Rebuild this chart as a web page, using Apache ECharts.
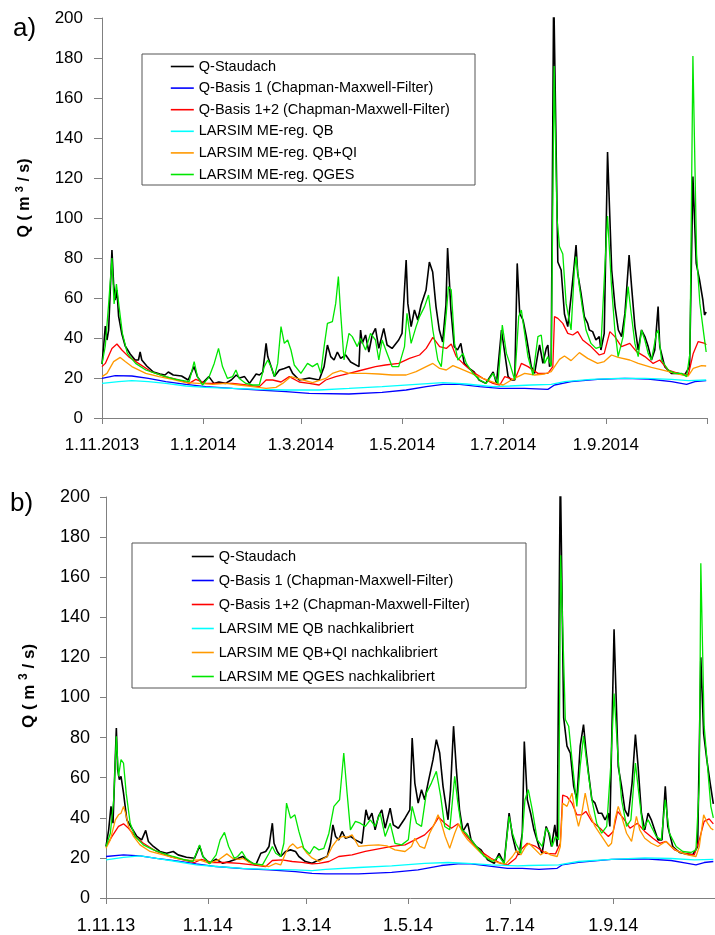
<!DOCTYPE html>
<html lang="de">

<head>
    <meta charset="UTF-8">
    <title>Abfluss Staudach - LARSIM Vergleich</title>
    <script src="https://cdn.jsdelivr.net/npm/echarts@6/dist/echarts.min.js"></script>
    <style>
        html, body { margin: 0; padding: 0; background: #fff; }
        #chart { width: 715px; height: 935px; }
    </style>
</head>

<body>
    <div id="chart"></div>
    <script>
        // x = Tage seit 1.11.2013
        var tickDays = [0, 61, 120, 181, 242, 304, 365];
        var labelDays = [0, 61, 120, 181, 242, 304];
        var tickLabelsA = ['1.11.2013', '1.1.2014', '1.3.2014', '1.5.2014', '1.7.2014', '1.9.2014'];
        var tickLabelsB = ['1.11.13', '1.1.14', '1.3.14', '1.5.14', '1.7.14', '1.9.14'];

        var namesA = ['Q-Staudach', 'Q-Basis 1 (Chapman-Maxwell-Filter)', 'Q-Basis 1+2 (Chapman-Maxwell-Filter)',
            'LARSIM ME-reg. QB', 'LARSIM ME-reg. QB+QI', 'LARSIM ME-reg. QGES'];
        var namesB = ['Q-Staudach', 'Q-Basis 1 (Chapman-Maxwell-Filter)', 'Q-Basis 1+2 (Chapman-Maxwell-Filter)',
            'LARSIM ME QB nachkalibriert', 'LARSIM ME QB+QI nachkalibriert', 'LARSIM ME QGES nachkalibriert'];
        var colors = ['#000000', '#0000ff', '#ff0000', '#00ffff', '#ff9900', '#00e600'];

        // a) LARSIM ME-reg.
        var aStaudach = [[0,27],[1,36],[2,46],[3,39],[4,44],[6,84],[7,67],[8,59],[9,64],[10,51],[12,42],[14,36],[17,32],[20,29],[22,29],[23,33],[24,29],[27,26],[31,23],[35,22],[38,21.5],[40,23],[43,21.5],[48,21],[52,19],[55.5,25.7],[57.5,20.7],[60.5,17.3],[64.5,20.7],[67.5,17.3],[70.5,18],[74.5,17.3],[78,19],[81,21.5],[83,20],[86,20.7],[89,17.3],[93,22],[95,21.5],[97,23],[99,37.3],[100,30.7],[102,25.7],[104,20.7],[107,24],[110,24.8],[113,25.7],[115,22.3],[119,19],[125,20],[131,19],[134,25.7],[136,36.5],[138,30.7],[140,29],[142,33],[144,29.8],[147,31.5],[150,28],[155,25.7],[156,44],[157,37.3],[159,41.5],[161,33],[163,41.5],[165,44.8],[167,34.8],[170,44.8],[172,36.5],[175,34.8],[179,39],[181,42.3],[183.5,79],[184.5,57.3],[186.5,45.7],[188.5,54],[190.5,49],[192.5,56.5],[195.5,64],[197.5,78],[199.5,73],[201.5,55.7],[203.5,44],[205.5,38],[207.5,56.5],[208.5,85],[210.5,54],[212.5,35.7],[214.5,34],[216.5,37.3],[218.5,27.3],[221.5,24.8],[224.5,23],[227.5,19],[231.5,17.3],[236,23],[238,17.3],[241,44],[243,32.3],[245,20.7],[247,19],[249,19],[250.5,77.3],[252,52.3],[254,49],[256,40.7],[259,25.7],[261,22.3],[263,32.3],[264,36.5],[266,27.3],[268,34.8],[269,36.5],[270,25.7],[271,27],[272.5,215],[275,78],[277,74],[279,52],[281,45.7],[283,60.7],[285,77.3],[286,86.5],[287,72.3],[289,62.3],[291,50.7],[293,47.3],[294,44],[296,43.2],[298,39],[300,40.7],[301,34],[303,42.3],[305,133],[307.5,74],[309.5,55.7],[311.5,44],[313.5,40.7],[315.5,52.3],[318,81.5],[319.5,65.7],[321.5,45.7],[323.5,34],[325.5,44],[327.5,40.7],[329.5,35.7],[331.5,29],[333.5,34],[335.5,55.7],[336.5,35.7],[339.5,25.7],[343.5,22.3],[347.5,22.3],[351.5,21.5],[354.5,25.7],[356.5,120.7],[358.5,77.3],[360.5,69],[362.5,59],[363.5,51.5],[364.5,53]];
        var aBasis1 = [[0,19.8],[8,21.2],[18,21],[28,19.8],[38.5,18.2],[50.6,16.8],[62.6,15.7],[78.8,14.8],[95,14],[111,13.2],[125,12.3],[149,12],[169,12.8],[183.5,14],[195.6,15.7],[205.7,16.8],[215.8,16.8],[227.8,15.7],[240,14.8],[255,14.8],[269,14.3],[273,16.5],[283,18.2],[299,19.3],[315.4,19.8],[329.5,19.5],[343.6,18.2],[352.7,16.8],[357.7,18.2],[364.5,18.7]];
        var aBasis12 = [[0,25.7],[2,27.3],[6,34.8],[9,37],[12,34],[16,30.7],[22,27.3],[30,23],[38,20.7],[46.5,19],[52.6,17.3],[56.6,19.3],[62.6,17.3],[70.7,17.3],[78.8,17.3],[87,16.5],[95,15.7],[99,19],[103,19],[108,18],[113,20.7],[119,18],[125,17.3],[131,16.5],[135,19],[141,20.7],[149,22.3],[157,24],[165,25.7],[171,26.5],[179,27.3],[185.5,29.8],[191.6,31.5],[195.6,34.8],[199.6,40.3],[203.7,35.7],[207.7,34.8],[210.7,37],[213.7,30.7],[217.8,27.3],[223.8,23],[229.8,19.8],[235.9,17.3],[240,16.5],[243,20.7],[249,19],[253,27.3],[257,25.7],[263,22.3],[269,22.3],[272,25.7],[273,50.7],[275,49.8],[278,47.3],[281,42.3],[284,41.5],[287,43.2],[290,39],[295,35.7],[300,31.5],[303,32.3],[306.4,43.2],[309.4,40.7],[313.4,35.7],[318.4,37.3],[322.5,33.2],[327.5,30.7],[332.5,27.3],[336.5,29],[341.6,24],[347.6,22.3],[353.7,21.5],[356.7,32.3],[359.7,38.2],[363.8,37.3],[364.5,36.5]];
        var aQB = [[0,17.3],[10,18.2],[18,18.7],[28,18.2],[38.5,17.3],[50.6,16],[62.6,15.3],[78.8,14.8],[95,14.3],[111,14],[131,14],[149,14.8],[169,15.7],[189.5,16.8],[205.7,17.7],[219.8,17],[235.9,15.7],[246,16],[259,16.5],[271,16.8],[279,18.2],[295,19.3],[311.4,19.8],[327.5,19.8],[343.6,19.3],[353.7,18.7],[364.5,19]];
        var aQBQI = [[0,20.7],[3,22.3],[7,28.2],[11,30.3],[14,28.2],[18,25.7],[26.4,22.3],[34.4,20.7],[42.5,19.3],[50.6,17.7],[58.6,17.3],[66.7,16.8],[74.7,17.3],[82.8,16.5],[90.9,15.7],[99,14.8],[105,15.3],[109,17.3],[114,20.7],[119,19.5],[127,17.7],[135,19.8],[139,22.3],[144,23.7],[149,22.3],[159,22.3],[167,22],[175,21.5],[183.5,21.5],[189.5,23.2],[195.6,25.7],[199.6,27.3],[203.7,24.8],[207.7,24],[211.7,26.2],[215.8,24.8],[221.8,22.7],[229.8,19.8],[237.9,17.3],[242,16.5],[247,19],[251,20.7],[255,22.3],[261,21.5],[267,22],[271,23.2],[276,29.3],[279,31],[283,28.7],[288,32.7],[293,29.8],[299,27.3],[303,28.2],[307.4,31.5],[311.4,30.3],[318.4,29],[323.5,27.3],[331.5,25.3],[339.6,23.7],[347.6,22],[353.7,21],[356.7,24.8],[361.7,26.2],[364.5,26]];
        var aQGES = [[0,27],[2,36],[4,57],[6,80],[7.3,57],[8.7,67],[10.3,55.7],[12.3,42.3],[15.3,32.3],[20.3,27.3],[26.4,24],[32.4,22.3],[38.5,20.7],[44.5,19.3],[52.6,18.2],[55.6,28.2],[57.6,20.7],[60.6,16.5],[64.7,20.7],[67.7,27.3],[70.3,34.8],[72.7,25.7],[75.7,19.8],[78.8,20.7],[80.8,24],[82.8,19.8],[86.8,17.3],[90.9,16.5],[94.9,16.5],[97.9,25.7],[100,29],[102,25.7],[104,20.7],[106,27.3],[108,45.7],[110,37.3],[112,39],[114,34],[116,26.5],[120,22.3],[124,27.3],[127,25.7],[130,27.3],[132,22.3],[134,35.7],[136,47.3],[139,48.2],[141,57.3],[142.6,70.7],[144,52.3],[146,29],[149,42.3],[151,40.7],[154,35.7],[156,39.8],[159,34],[162,42.3],[165,39],[167,29],[169,39],[172,32.3],[175,25.7],[179,25.7],[182.5,35.7],[184,52.3],[186.5,37.3],[189.5,45.7],[191.6,50.7],[194.6,55.7],[197,61.5],[199.6,44],[202.6,29],[204.7,25.7],[207.7,52.3],[209,65.7],[210.7,64],[212.7,37.3],[214.7,29],[217.8,32.3],[219.8,27.3],[223.8,22.3],[227.8,19],[231.8,17.3],[235.9,22.3],[238.9,17.3],[241.5,46.5],[244,32.3],[246,27.3],[249,19],[251.4,50.7],[253,54],[255,42.3],[257,30.7],[260,21.5],[263,40.7],[265,41.5],[267,27.3],[269,30.7],[271,25.7],[272.8,176],[274.5,100],[276,85.7],[278,82],[280,57.3],[283,44],[285,74],[286,80.7],[288,65.7],[290,54],[292,44],[295,37.3],[298,34.8],[301,35.7],[303,69],[305,101],[307.4,65.7],[309.4,44],[311.4,30.7],[314.4,40.7],[317.4,65.7],[319,54],[321.5,37.3],[323.5,30.7],[325.5,44],[327.5,39],[329.5,32.3],[331.5,29],[334.5,42.3],[335.5,44],[337.6,29],[341.6,24],[345.6,22.3],[349.7,22.3],[352.7,20.7],[354.7,32.3],[356.5,181],[358.7,82],[360.7,57.3],[363,42.3],[364.5,33]];

        // b) LARSIM ME nachkalibriert
        var bStaudach = [[0,25.7],[1.6,34],[3,45.7],[4.2,37.3],[6.2,84.8],[7,64],[8,59],[9,60.7],[10.5,52.3],[12.5,39],[15.5,34.8],[18.5,30.7],[21.4,29],[23.8,33.7],[25.4,28.2],[28.4,25.7],[32.3,23.2],[36.3,22.3],[40.3,23.2],[43.2,21.5],[48.2,20.3],[53.1,19.8],[56.1,26],[58.1,20.7],[62,17.3],[66,19.3],[70,17.3],[74,18.2],[77.9,19.3],[81.9,20.7],[85.8,18.2],[89.8,16.5],[92.8,22.3],[95.7,23.2],[97.7,25.7],[99.7,37.3],[100.7,27.3],[102.7,23.2],[104.7,20.7],[107.6,23.2],[110.6,24],[113.6,23.2],[115.6,20.7],[119.5,18.2],[123.5,17.3],[127.6,19],[132.6,20.7],[134.6,27.3],[136,36.5],[137.6,30.7],[139.5,29],[141.5,33.2],[143.5,29.8],[146.5,30.7],[149.5,29],[153.4,27.3],[155.8,44],[157.4,39],[159.4,42.3],[161.3,34],[163.3,40.7],[165.3,44],[167.3,34.8],[170.3,44.8],[172.2,36.5],[175.2,34.8],[179.2,39.8],[182.1,44],[183.5,79.8],[185.1,57.3],[187.1,47.3],[189.1,54],[191,49],[193,57.3],[196,69],[198,79],[200,72.3],[202,55.7],[205,39],[206.5,54],[208.3,85.7],[210,64],[211.9,44],[213.9,33.2],[216.8,37.3],[218.8,29],[221.8,25.7],[224.8,24],[228.7,19],[232.7,17.3],[235.6,22.3],[238.6,17.3],[241.6,42.3],[243.6,31],[245.6,24],[247.6,21.5],[249.5,32.3],[250.7,78],[252.5,49],[254.5,42.3],[256.5,34],[259.5,25.7],[261.4,22.3],[263.8,35.7],[265.4,32.3],[267,25.7],[269,36.5],[270.4,25.7],[272.3,215],[274.3,90],[276.3,75.7],[278.3,72.3],[280.3,55.7],[282.2,49],[284.2,75.7],[286.2,86.5],[287.6,74],[289.2,62.3],[291.2,49],[293.1,47.3],[295.1,42.3],[297.1,42.3],[299.1,39],[301.1,42.3],[302,35.7],[304.5,134],[307,65.7],[309,55.7],[311,44],[313,40.7],[315.3,57.3],[317.3,81.5],[318.9,65.7],[320.9,42.3],[322.9,34],[324.9,42.3],[326.8,39],[328.8,34],[330.8,29],[333.2,29],[335.2,55.7],[336.7,35.7],[339.7,25.7],[343.7,22.7],[347.6,22],[351.6,21.5],[354.6,25.7],[356.5,120],[358.2,82],[360.1,69],[362.1,57.3],[364,47]];
        var bBasis1 = [[0,20.7],[10.5,21.5],[20.4,21],[30.3,19.8],[42.2,18.5],[54.1,17],[66,15.7],[81.9,14.7],[97.7,14],[113.6,13.2],[123.5,12.3],[131.6,12],[151.4,12],[171.2,12.8],[187,14],[201,16.2],[211,17],[218.8,17],[228.7,16],[240.6,14.8],[249.5,14.8],[259.5,14.3],[270.4,14.8],[273.3,16.5],[283.2,17.8],[303,19.3],[322.9,19.5],[338.7,18.7],[348.6,17.3],[353.6,16.5],[358.5,17.7],[364,18.2]];
        var bBasis12 = [[0,25.7],[3.6,30.7],[7.5,35.7],[10.5,37],[13.5,34.8],[17.5,30.7],[22.4,27.3],[30.3,23.2],[38.3,20.7],[46.2,19],[53.1,17.7],[57.1,19.3],[64,17.7],[72,17.7],[79.9,17.3],[87.8,16.5],[95.7,15.7],[99.7,18.7],[105.6,19],[111.6,18.2],[117.5,17.8],[123.5,17],[127.6,17.3],[133.6,18.2],[139.5,20.7],[147.5,21.5],[155.4,23.2],[163.3,24.5],[171.2,25.7],[179.2,26.5],[185.1,29],[191,31.5],[196,35.7],[199.4,40.3],[203,37.3],[207,34.8],[210.9,37],[214.8,32.3],[219.8,27.3],[224.8,23.2],[230.7,19.8],[236.6,17.3],[240.6,16.5],[245.6,19.8],[247.6,23.2],[252.5,27.3],[257.5,25.7],[263.4,22.3],[269.4,22],[272.3,27.3],[273.7,51.3],[276.3,50.5],[279.3,47.3],[282.2,41.5],[285.2,41.5],[287.6,43.2],[291.2,38.2],[296.1,34.8],[301.1,30.7],[304,33.2],[306.6,43.2],[310,39.8],[314,34.8],[318.5,37.3],[322.9,33.2],[327.8,29.8],[331.8,27.3],[335.7,28.2],[340.7,24],[346.6,22.3],[352.6,21.5],[355.6,29],[358.5,38.2],[361.5,39.5],[364,37]];
        var bQB = [[0,19],[10.5,20.3],[20.4,21],[30.3,19.8],[42.2,18.2],[54.1,16.5],[66,15.7],[81.9,14.8],[97.7,14.3],[113.6,14],[123.5,13.7],[131.6,14.3],[151.4,15.2],[171.2,16],[191,17.3],[205,17.7],[216.8,17.3],[230.7,16.5],[246.6,16],[253.5,16.2],[271.3,16.5],[283.2,18.2],[303,19.3],[322.9,20],[338.7,19.7],[352.6,19],[364,19.3]];
        var bQBQI = [[0,24.8],[2.6,29],[5.6,39],[7.5,41.5],[9,42.3],[10.5,45.7],[11.7,42.3],[13.5,35.7],[16.5,30.7],[20.4,26.5],[26.4,23.2],[34.3,21.5],[42.2,19.8],[50.2,18.7],[56.1,19],[62,17.3],[68,19.3],[72.4,22],[75.9,19.8],[79.9,19.3],[81.9,19.8],[85.8,17.7],[91.8,16.5],[97.7,15.7],[101.7,17.3],[104.7,16.5],[107.6,22.3],[110,25.7],[112,27],[114.6,24.8],[117.5,25.7],[120.5,22.3],[123.5,20],[127.6,18.2],[132.6,20.7],[135.6,25.7],[138.5,29],[141.5,30.7],[144.5,30.3],[147.5,31.5],[151.4,25.7],[157.4,26.2],[163.3,26.5],[168.3,26],[173.2,24],[179.2,23.2],[183.1,25.7],[185.1,29.8],[188.1,25.7],[191,24.8],[194,32.3],[197,37.3],[199,41.5],[201,37.3],[203.3,30.7],[206,24.8],[209,32.3],[211.3,37],[213.9,32.3],[216.8,29],[220.8,25.7],[224.8,22.3],[229.7,19.8],[234.7,17.7],[239.6,17],[243.6,20.7],[246,23.6],[248.6,21.5],[251.5,25.7],[253.5,27.3],[256.5,24.8],[260.4,21.5],[263.4,23.2],[266.4,21.5],[270.4,20.7],[272.3,25.7],[273.7,47.3],[276.3,45.7],[279.3,52.3],[281.3,42.3],[283.2,35.7],[285.2,42.3],[287.2,52.3],[289.6,42.3],[293.1,35.7],[297.1,30.7],[301.1,25.7],[303,27.3],[305,39],[307,45.7],[309,40.7],[312,32.3],[315,28.2],[317.9,40.7],[319.9,34],[322.9,29.8],[326.8,27.3],[330.8,25.7],[333.8,27.3],[335.7,28.2],[338.7,25.7],[342.7,23.2],[348.6,21.5],[353.6,20.7],[355.6,25.7],[358.2,41.5],[360.5,37.3],[362.5,34.8],[364,34]];
        var bQGES = [[0,25.7],[2.6,32.3],[4.6,49],[6.2,80.7],[7.5,60.7],[9,69],[10.5,67.3],[12.1,52.3],[14.5,37.3],[17.5,30.7],[22.4,26.5],[28.4,24],[34.3,22.3],[40.3,20.7],[46.2,19.3],[52.1,18.2],[56.1,26.5],[58.1,20.7],[62,17],[66,21.5],[68.4,29],[71,32.7],[73.5,25.7],[76.9,19.8],[78.9,20.7],[81.5,23.2],[83.9,19.8],[87.8,17.3],[93.8,16.5],[97.7,22.3],[99.7,25.7],[101.7,22.3],[104.7,20.7],[106.6,27.3],[108.2,47.3],[110.6,39.8],[113.2,41.5],[115.6,33.2],[118.5,24.8],[122,22],[124.7,25.7],[127.6,24],[130.6,24.8],[133.6,32.3],[136.6,45.7],[140,49],[142.5,72.3],[144.5,52.3],[146.5,34],[149.5,38.2],[152.4,37.3],[155.4,35.7],[158.4,39],[161.3,35.7],[164.3,42.3],[167.3,30.7],[170.3,37.3],[173.2,27.3],[177.2,26.5],[181.2,29],[183.5,45.7],[186.1,37.3],[189.1,35.7],[192,52.3],[195,57.3],[198,63.2],[200.6,50.7],[203,35.7],[206,34],[209,60.7],[210.9,47.3],[213.3,34],[215.8,32.3],[218.8,29],[222.8,24.8],[226.7,20.7],[231.7,18.2],[235.6,20.7],[238.6,17.3],[241.6,40.7],[243.6,32.3],[245.6,27.3],[248.6,22.3],[251.1,49],[253.1,54],[255.5,44],[258.5,29],[261.4,25.7],[263.8,34.8],[265.8,32.3],[267.4,25.7],[269.4,30.7],[271.3,29],[272.5,171],[275.3,89],[277.3,85.7],[279.3,69],[282.2,45.7],[284.2,65.7],[286.2,80.7],[288.2,67.3],[291.2,49],[294.1,37.3],[297.1,32.3],[300.1,35.7],[302.5,65.7],[304.5,102],[307,69],[309,49],[312,35.7],[314.6,39],[317.3,67.3],[319.3,52.3],[321.9,34],[324.9,39],[326.8,35.7],[329.8,30.7],[332.8,29],[335.2,49],[337.7,32.3],[341.7,25.7],[345.7,23.2],[350.6,22.7],[353.6,24],[355.6,57.3],[356.5,167],[358.5,85.7],[360.5,65.7],[362.5,45.7],[364,40]];

        var seriesA = [aStaudach, aBasis1, aBasis12, aQB, aQBQI, aQGES];
        var seriesB = [bStaudach, bBasis1, bBasis12, bQB, bQBQI, bQGES];

        var font = 'Arial, "Liberation Sans", sans-serif';
        var axisGray = '#808080';

        function makeX(gridIndex, labels, fontSize) {
            return {
                type: 'value', gridIndex: gridIndex, min: 0, max: 365,
                axisLine: { lineStyle: { color: axisGray, width: 1 } },
                axisTick: { customValues: tickDays, length: 6, lineStyle: { color: axisGray } },
                axisLabel: {
                    customValues: labelDays, margin: 19, color: '#000', fontFamily: font, fontSize: fontSize,
                    formatter: function(v) { return labels[labelDays.indexOf(v)] || ''; }
                },
                splitLine: { show: false }
            };
        }

        function makeY(gridIndex, fontSize, tickLen, margin) {
            return {
                type: 'value', gridIndex: gridIndex, min: 0, max: 200, interval: 20,
                axisLine: { show: true, lineStyle: { color: axisGray, width: 1 } },
                axisTick: { show: true, length: tickLen, lineStyle: { color: axisGray } },
                axisLabel: { margin: margin, color: '#000', fontFamily: font, fontSize: fontSize },
                splitLine: { show: false }
            };
        }

        var series = [];
        seriesA.forEach(function(d, i) {
            series.push({
                name: namesA[i], type: 'line', xAxisIndex: 0, yAxisIndex: 0, data: d,
                symbol: 'none', clip: true, color: colors[i],
                lineStyle: { width: i === 0 ? 1.6 : 1.3, color: colors[i] }
            });
        });
        seriesB.forEach(function(d, i) {
            series.push({
                name: namesB[i], type: 'line', xAxisIndex: 1, yAxisIndex: 1, data: d,
                symbol: 'none', clip: true, color: colors[i],
                lineStyle: { width: i === 0 ? 1.6 : 1.3, color: colors[i] }
            });
        });

        function qName(x, y, size) {
            return {
                type: 'text', x: x, y: y, rotation: Math.PI / 2,
                style: {
                    text: '{n|Q ( m }{s|3}{n| / s)}',
                    align: 'center', verticalAlign: 'middle',
                    rich: {
                        n: { fontFamily: font, fontSize: size, fontWeight: 'bold', fill: '#000', lineHeight: 22, verticalAlign: 'middle' },
                        s: { fontFamily: font, fontSize: Math.round(size * 0.7), fontWeight: 'bold', fill: '#000', lineHeight: 12, verticalAlign: 'top' }
                    }
                }
            };
        }

        // Legende: nur Linie, ohne Kreis
        function makeLegend(names, left, top, itemWidth, gap) {
            return {
                data: names, orient: 'vertical', left: left, top: top, padding: 0,
                itemWidth: itemWidth, itemHeight: 14, itemGap: gap, selectedMode: false,
                itemStyle: { opacity: 0 },
                lineStyle: { width: 1.6 },
                textStyle: { fontFamily: font, fontSize: 14.5, color: '#000', lineHeight: 14 }
            };
        }

        var chart = echarts.init(document.getElementById('chart'), null, { renderer: 'canvas' });
        chart.setOption({
            animation: false,
            backgroundColor: '#fff',
            grid: [
                { left: 102, top: 18, width: 605, height: 400 },
                { left: 106, top: 497, width: 614, height: 401 }
            ],
            xAxis: [makeX(0, tickLabelsA, 17), makeX(1, tickLabelsB, 18)],
            yAxis: [makeY(0, 17, 8, 19), makeY(1, 18, 6, 16)],
            legend: [
                makeLegend(namesA, 170, 59, 23, 6.6),
                makeLegend(namesB, 191, 549, 22, 9)
            ],
            graphic: [
                { type: 'rect', shape: { x: 142, y: 54, width: 333, height: 131 }, style: { fill: 'none', stroke: '#555', lineWidth: 1 }, z: 5 },
                { type: 'rect', shape: { x: 132, y: 543, width: 394, height: 145 }, style: { fill: 'none', stroke: '#555', lineWidth: 1 }, z: 5 },
                { type: 'text', x: 13, y: 29, style: { text: 'a)', fontFamily: font, fontSize: 26, fill: '#000', verticalAlign: 'middle' } },
                { type: 'text', x: 10, y: 504, style: { text: 'b)', fontFamily: font, fontSize: 26, fill: '#000', verticalAlign: 'middle' } },
                qName(25, 198, 16),
                qName(29, 686, 17)
            ],
            series: series
        });
    </script>
</body>

</html>
